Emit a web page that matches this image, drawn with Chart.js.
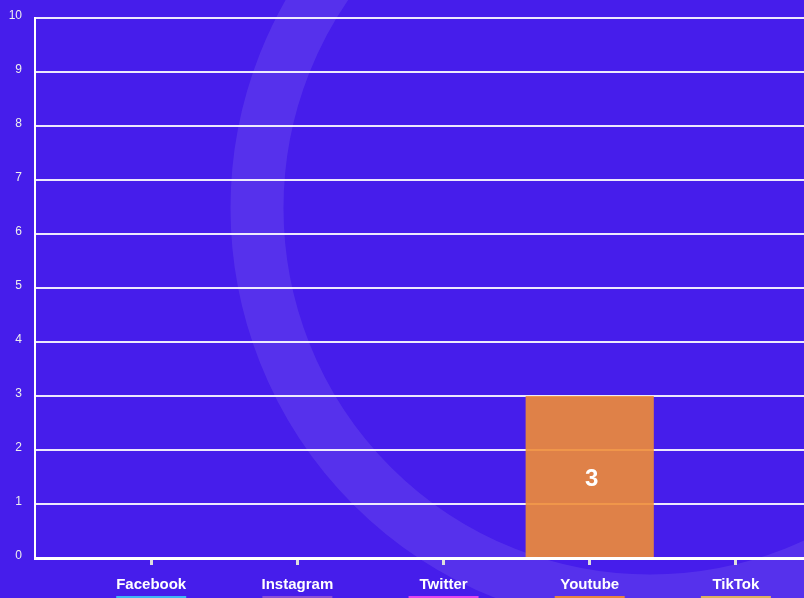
<!DOCTYPE html>
<html>
<head>
<meta charset="utf-8">
<script src="https://cdn.jsdelivr.net/npm/chart.js@4.4.1/dist/chart.umd.min.js"></script>
<style>
  html, body { margin: 0; padding: 0; background: #461DEB; overflow: hidden; }
  #wrap { position: relative; width: 804px; height: 598px; }
</style>
</head>
<body>
<div id="wrap"><canvas id="c"></canvas></div>
<script>
// ---- data ----
const categories = ['Facebook', 'Instagram', 'Twitter', 'Youtube', 'TikTok'];
const values = [0, 0, 0, 3, 0];
const stripColors = ['#3DB6F6', '#8A4FD8', '#E045F0', '#E8843F', '#DDB060'];
const yMin = 0;
const yMax = 10;

// ---- decorative background: solid fill + faint ring ----
const backdrop = {
  id: 'backdrop',
  beforeDraw(chart) {
    const ctx = chart.ctx;
    ctx.save();
    ctx.fillStyle = '#461DEB';
    ctx.fillRect(0, 0, chart.width, chart.height);
    ctx.beginPath();
    ctx.arc(650, 208, 393, 0, Math.PI * 2);
    ctx.lineWidth = 53;
    ctx.strokeStyle = 'rgba(255,255,255,0.09)';
    ctx.stroke();
    ctx.restore();
  }
};

// ---- value labels inside bars ----
const valueLabels = {
  id: 'valueLabels',
  afterDatasetsDraw(chart) {
    const ctx = chart.ctx;
    const meta = chart.getDatasetMeta(0);
    ctx.save();
    ctx.fillStyle = '#ffffff';
    ctx.font = 'bold 24px "Liberation Sans", Arial, sans-serif';
    ctx.textAlign = 'center';
    ctx.textBaseline = 'middle';
    meta.data.forEach((el, i) => {
      if (values[i] > 0) {
        ctx.fillText(String(values[i]), el.x + 2, (el.y + el.base) / 2 + 3);
      }
    });
    ctx.restore();
  }
};

// ---- coloured strips under category labels ----
const strips = {
  id: 'strips',
  afterDraw(chart) {
    const ctx = chart.ctx;
    const xs = chart.scales.x;
    ctx.save();
    categories.forEach((c, i) => {
      const px = xs.getPixelForValue(i + 1);
      ctx.fillStyle = stripColors[i];
      ctx.fillRect(px - 35, chart.chartArea.bottom + 38, 70, 4);
    });
    ctx.restore();
  }
};

new Chart(document.getElementById('c'), {
  type: 'bar',
  data: {
    datasets: [{
      data: categories.map((c, i) => ({ x: i + 1, y: values[i] })),
      backgroundColor: 'rgba(240,141,54,0.9)',
      borderWidth: 0,
      barPercentage: 0.877,
      categoryPercentage: 1
    }]
  },
  options: {
    responsive: true,
    maintainAspectRatio: false,
    animation: false,
    layout: { padding: { top: 18, right: 0, left: 0, bottom: 0 } },
    plugins: { legend: { display: false }, tooltip: { enabled: false } },
    scales: {
      x: {
        type: 'linear',
        offset: false,
        min: 0.205,
        max: 5.466,
        afterBuildTicks(scale) {
          scale.ticks = categories.map((c, i) => ({ value: i + 1 }));
        },
        afterFit(scale) { scale.height = 40; scale.paddingLeft = 0; scale.paddingRight = 0; },
        border: { display: true, color: '#ffffff', width: 3 },
        grid: {
          offset: false,
          drawOnChartArea: false,
          drawTicks: true,
          tickLength: 7,
          color: '#dddddd',
          lineWidth: 3
        },
        ticks: {
          color: '#ffffff',
          padding: 11,
          autoSkip: false,
          maxRotation: 0,
          font: { family: '"Liberation Sans", Arial, sans-serif', size: 15, weight: 'bold' },
          callback: (v) => categories[Math.round(v) - 1] || ''
        }
      },
      y: {
        min: yMin,
        max: yMax,
        afterFit(scale) { scale.width = 35; scale.paddingTop = 0; scale.paddingBottom = 0; },
        border: { display: true, color: '#ffffff', width: 2 },
        grid: {
          color: 'rgba(255,255,255,0.9)',
          lineWidth: 2,
          drawTicks: false
        },
        ticks: {
          stepSize: 1,
          color: '#eeeeee',
          padding: 13,
          labelOffset: -2,
          font: { family: '"Liberation Sans", Arial, sans-serif', size: 12 }
        }
      }
    }
  },
  plugins: [backdrop, valueLabels, strips]
});
</script>
</body>
</html>
